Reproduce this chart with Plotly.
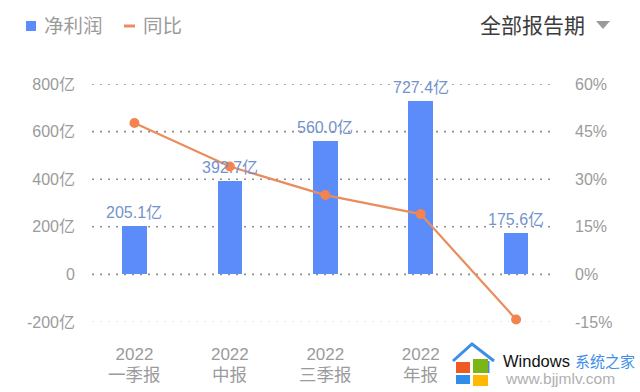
import plotly.graph_objects as go

periods = ["一季报", "中报", "三季报", "年报"]
years = ["2022", "2022", "2022", "2022"]
profit = [205.1, 392.7, 560.0, 727.4, 175.6]
profit_labels = ["205.1亿", "392.7亿", "560.0亿", "727.4亿", "175.6亿"]
yoy = [47.7, 34.0, 25.0, 19.0, -14.2]
left_ticks = [800, 600, 400, 200, 0, -200]
left_labels = ["800亿", "600亿", "400亿", "200亿", "0", "-200亿"]
right_ticks = [60, 45, 30, 15, 0, -15]
right_labels = ["60%", "45%", "30%", "15%", "0%", "-15%"]

W, H = 640, 392
L, R, T, B = 92, 556, 84, 322
FONT = "Liberation Sans, Noto Sans CJK SC, sans-serif"
BLUE = "#5c8bfa"
ORANGE = "#ea8d5c"
DOT = "#f3834f"
GREY = "#9b9b9b"
LABEL = "#7393cc"


def px(x):
    return (x - L) / (R - L)


def py(y):
    return (B - y) / (B - T)


x_idx = list(range(5))
fig = go.Figure()
fig.add_bar(x=x_idx, y=profit, width=0.257, marker=dict(color=BLUE, line_width=0),
            name="净利润", yaxis="y", cliponaxis=False)
fig.add_scatter(x=x_idx, y=yoy, mode="lines+markers", name="同比", yaxis="y2",
                line=dict(color=ORANGE, width=2.2), marker=dict(color=DOT, size=10), cliponaxis=False)
for i, (v, t) in enumerate(zip(profit, profit_labels)):
    fig.add_annotation(x=i, y=v, text=t, yref="y", xref="x", showarrow=False, yanchor="bottom", yshift=3,
                       font=dict(size=16, color=LABEL, family=FONT))
for i, t in enumerate(periods):
    fig.add_annotation(x=i, y=py(375), text=t, yref="paper", xref="x", showarrow=False, yanchor="middle",
                       font=dict(size=17.5, color=GREY, family=FONT))

shapes = []
for t in left_ticks:
    faint = t == -200
    shapes.append(dict(type="line", xref="paper", x0=0, x1=1, yref="y", y0=t, y1=t, layer="below",
                       line=dict(color="#e4e4e4" if faint else "#8f8f8f", width=1.6, dash="2px 6px")))

# legend
shapes.append(dict(type="rect", xref="paper", yref="paper", x0=px(26), x1=px(36), y0=py(31), y1=py(21),
                   fillcolor=BLUE, line_width=0))
shapes.append(dict(type="line", xref="paper", yref="paper", x0=px(124), x1=px(135), y0=py(26), y1=py(26),
                   line=dict(color=ORANGE, width=3)))
# dropdown triangle
shapes.append(dict(type="path", xref="paper", yref="paper",
                   path=f"M {px(596)} {py(21)} L {px(610)} {py(21)} L {px(603)} {py(29)} Z",
                   fillcolor="#9a9a9a", line_width=0))
# watermark logo
shapes.append(dict(type="path", xref="paper", yref="paper",
                   path=f"M {px(453)} {py(361)} L {px(472)} {py(344)} L {px(494)} {py(361)}",
                   line=dict(color="#3d8ee8", width=3)))
shapes.append(dict(type="line", xref="paper", yref="paper", x0=px(488), x1=px(488), y0=py(361), y1=py(373),
                   line=dict(color="#3d8ee8", width=3)))
panes = [(456, 470, 362, 373, "#ee5a24"), (473, 488, 359, 373, "#7cb518"),
         (456, 470, 375, 384, "#2f8fe8"), (473, 488, 375, 386, "#ffb900")]
for a, b, c, d, col in panes:
    shapes.append(dict(type="rect", xref="paper", yref="paper", x0=px(a), x1=px(b), y0=py(d), y1=py(c),
                       fillcolor=col, line_width=0))

ann = [
    dict(text="净利润", x=px(43), y=py(26), size=19.5, color=GREY),
    dict(text="同比", x=px(142), y=py(26), size=19.5, color=GREY),
    dict(text="全部报告期", x=px(479), y=py(25), size=21, color="#3c3c3c"),
    dict(text="Windows", x=px(502), y=py(361), size=16.5, color="#111111"),
    dict(text="系统之家", x=px(574), y=py(361), size=15, color="#3d8ee8"),
    dict(text="www.bjjmlv.com", x=px(504), y=py(378), size=15.5, color="#b0b0b0"),
]
for a in ann:
    fig.add_annotation(xref="paper", yref="paper", x=a["x"], y=a["y"], text=a["text"], showarrow=False,
                       xanchor="left", yanchor="middle", xshift=0, borderpad=0, font=dict(size=a["size"], color=a["color"], family=FONT))

fig.update_layout(
    width=W, height=H, autosize=False, showlegend=False, paper_bgcolor="white", plot_bgcolor="white",
    margin=dict(l=L, r=W - R, t=T, b=H - B, pad=0), shapes=shapes, bargap=0,
    font=dict(family=FONT, size=16, color=GREY),
    xaxis=dict(range=[-0.445, 4.418], tickmode="array", tickvals=x_idx[:4], ticktext=years,
               showgrid=False, zeroline=False, showline=False, ticks="", tickfont=dict(size=17, color=GREY),
               ticklabelstandoff=20),
    yaxis=dict(range=[-200, 800], tickmode="array", tickvals=left_ticks, ticktext=left_labels, showgrid=False,
               zeroline=False, showline=False, ticks="", ticklabelstandoff=16, tickfont=dict(size=16, color=GREY)),
    yaxis2=dict(range=[-15, 60], overlaying="y", side="right", tickmode="array", tickvals=right_ticks,
                ticktext=right_labels, showgrid=False, zeroline=False, showline=False, ticks="",
                ticklabelstandoff=18, tickfont=dict(size=16, color=GREY)),
)
fig.write_html("out.html", post_script="document.body.style.margin='0';", config={"displayModeBar": False})
